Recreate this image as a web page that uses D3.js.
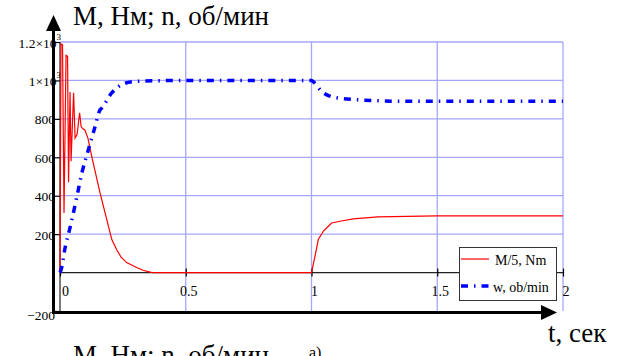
<!DOCTYPE html>
<html>
<head>
<meta charset="utf-8">
<script src="https://cdn.jsdelivr.net/npm/d3@7"></script>
</head>
<body style="margin:0;background:#fff">
<svg id="chart" width="624" height="356" font-family="Liberation Serif" style="display:block"></svg>
<script>
// Torque M/5 (N·m) against time t (s)
const torqueT = [0, 0.004, 0.010, 0.016, 0.024, 0.030, 0.034, 0.040, 0.044, 0.054, 0.060, 0.068, 0.078,
  0.084, 0.091, 0.099, 0.111, 0.127, 0.159, 0.186, 0.206, 0.225, 0.243, 0.265, 0.305, 0.330, 0.358, 0.370,
  1.000, 1.014, 1.027, 1.047, 1.067, 1.080, 1.113, 1.166, 1.264, 1.498, 2.000];
const torqueM = [0, 1190, 1185, 310, 1130, 1125, 470, 940, 580, 936, 700, 720, 832,
  760, 748, 742, 700, 600, 416, 276, 172, 120, 80, 52, 26, 12, 2, 0,
  0, 85, 172, 215, 241, 258, 267, 279, 290, 295, 295];

// Rotor speed w (rpm) against time t (s)
const speedT = [0, 0.004, 0.020, 0.0425, 0.066, 0.0875, 0.1125, 0.139, 0.159, 0.166, 0.2056, 0.2517, 0.30,
  0.40, 0.50, 1.000, 1.010, 1.040, 1.070, 1.107, 1.180, 1.260, 1.400, 2.000];
const speedW = [0, 13, 128, 248, 388, 521, 638, 758, 846, 856, 935, 982, 995,
  999, 1000, 1000, 990, 943, 920, 908, 900, 894, 891, 891];

const xTicks = [0, 0.5, 1, 1.5, 2];
const xTickLabels = ["0", "0.5", "1", "1.5", "2"];
const yGrid = [200, 400, 600, 800, 1000, 1200];
const yTicks = [-200, 200, 400, 600, 800, 1000, 1200];
const yTickLabels = ["\u2212200", "200", "400", "600", "800", "1\u00d710", "1.2\u00d710"];
const yTickSup = ["", "", "", "", "", "3", "3"];

const seriesNames = ["M/5, Nm", "w, ob/min"];
const seriesColors = ["#ff0000", "#0000ff"];

const FONT = "Liberation Serif";

const svg = d3.select("#chart");
svg.append("rect").attr("width", 624).attr("height", 356).attr("fill", "#fff");

const x = d3.scaleLinear().domain([0, 2]).range([60, 563]);
const y = d3.scaleLinear().domain([-200, 1200]).range([311, 42]);

const gridColor = "#a6a6ff";

// grid
svg.append("g").selectAll("line").data(xTicks.slice(1)).join("line")
  .attr("x1", d => x(d)).attr("x2", d => x(d))
  .attr("y1", y(1200)).attr("y2", y(-200))
  .attr("stroke", gridColor).attr("stroke-width", 1.3);
svg.append("g").selectAll("line").data(yGrid).join("line")
  .attr("x1", x(0)).attr("x2", x(2))
  .attr("y1", d => y(d)).attr("y2", d => y(d))
  .attr("stroke", gridColor).attr("stroke-width", 1.3);

// zero line and left frame line
svg.append("line").attr("x1", x(0)).attr("x2", x(2)).attr("y1", y(0)).attr("y2", y(0))
  .attr("stroke", "#222").attr("stroke-width", 1.2);
svg.append("line").attr("x1", x(0)).attr("x2", x(0)).attr("y1", y(1200)).attr("y2", y(-200))
  .attr("stroke", "#222").attr("stroke-width", 1.2);

// y axis ticks and labels
const yAxis = d3.axisLeft(y).tickValues(yTicks).tickSize(5).tickPadding(0)
  .tickFormat((d, i) => yTickLabels[i]);
const gy = svg.append("g").attr("transform", `translate(${x(0)},0)`).call(yAxis)
  .attr("font-family", FONT);
gy.select(".domain").remove();
gy.selectAll(".tick line").attr("stroke", "#000").attr("stroke-width", 1.2);
gy.selectAll(".tick text")
  .attr("font-family", FONT).attr("font-size", 13.5).attr("fill", "#000")
  .attr("dy", null).attr("y", d => d === -200 ? 8 : 5)
  .each(function (d, i) {
    if (yTickSup[i]) {
      d3.select(this).append("tspan").attr("font-size", 9).attr("dy", -8).text(yTickSup[i]);
      d3.select(this).attr("x", 1);
    }
  });

// x axis ticks on the zero line, labels below
const xAxis = d3.axisBottom(x).tickValues(xTicks).tickSize(4).tickPadding(0)
  .tickFormat((d, i) => xTickLabels[i]);
const gx = svg.append("g").attr("transform", `translate(0,${y(0)})`).call(xAxis)
  .attr("font-family", FONT);
gx.select(".domain").remove();
gx.selectAll(".tick line").attr("y1", -4).attr("stroke", "#000").attr("stroke-width", 1.2);
gx.selectAll(".tick text")
  .attr("font-family", FONT).attr("font-size", 14).attr("fill", "#000")
  .attr("dy", null).attr("y", 23).attr("dx", (d, i) => i === 0 ? 5 : 2.5);

// series
const torqueLine = d3.line().x((d, i) => x(torqueT[i])).y(d => y(d));
const speedLine = d3.line().x((d, i) => x(speedT[i])).y(d => y(d)).curve(d3.curveMonotoneX);

svg.append("path").datum(torqueM).attr("d", torqueLine)
  .attr("fill", "none").attr("stroke", seriesColors[0]).attr("stroke-width", 1.2);
svg.append("path").datum(speedW).attr("d", speedLine)
  .attr("fill", "none").attr("stroke", seriesColors[1]).attr("stroke-width", 3.5)
  .attr("stroke-dasharray", "7,6,1.5,6");

// main axes with arrows
svg.append("line").attr("x1", 53.5).attr("x2", 53.5).attr("y1", 28).attr("y2", 314)
  .attr("stroke", "#000").attr("stroke-width", 3);
svg.append("path").attr("d", "M53.5,15 L46,31 L61,31 Z").attr("fill", "#000");
svg.append("line").attr("x1", 52).attr("x2", 545).attr("y1", 312.5).attr("y2", 312.5)
  .attr("stroke", "#000").attr("stroke-width", 3);
svg.append("path").attr("d", "M557,312.5 L541,305 L541,320 Z").attr("fill", "#000");

// legend
const lg = svg.append("g");
lg.append("rect").attr("x", 459.5).attr("y", 247.5).attr("width", 97).attr("height", 53)
  .attr("fill", "#fff").attr("stroke", "#333").attr("stroke-width", 1);
lg.append("line").attr("x1", 461).attr("x2", 489).attr("y1", 259).attr("y2", 259)
  .attr("stroke", seriesColors[0]).attr("stroke-width", 1.2);
lg.append("text").attr("x", 495).attr("y", 265).attr("font-family", FONT).attr("font-size", 14)
  .text(seriesNames[0]);
lg.append("line").attr("x1", 461).attr("x2", 489).attr("y1", 286).attr("y2", 286)
  .attr("stroke", seriesColors[1]).attr("stroke-width", 3.5).attr("stroke-dasharray", "7,6,1.5,6");
lg.append("text").attr("x", 493).attr("y", 292).attr("font-family", FONT).attr("font-size", 14)
  .text(seriesNames[1]);

// axis titles
const addTitle = (tx, ty, size, str) => svg.append("text").attr("x", tx).attr("y", ty)
  .attr("font-family", FONT).attr("font-size", size).attr("fill", "#000").text(str);
addTitle(73, 25, 27, "M, Нм; n, об/мин");
addTitle(548, 342, 27, "t, сек");
addTitle(73, 364, 27, "M, Нм; n, об/мин");
addTitle(309, 358, 16, "а)");
</script>
</body>
</html>
